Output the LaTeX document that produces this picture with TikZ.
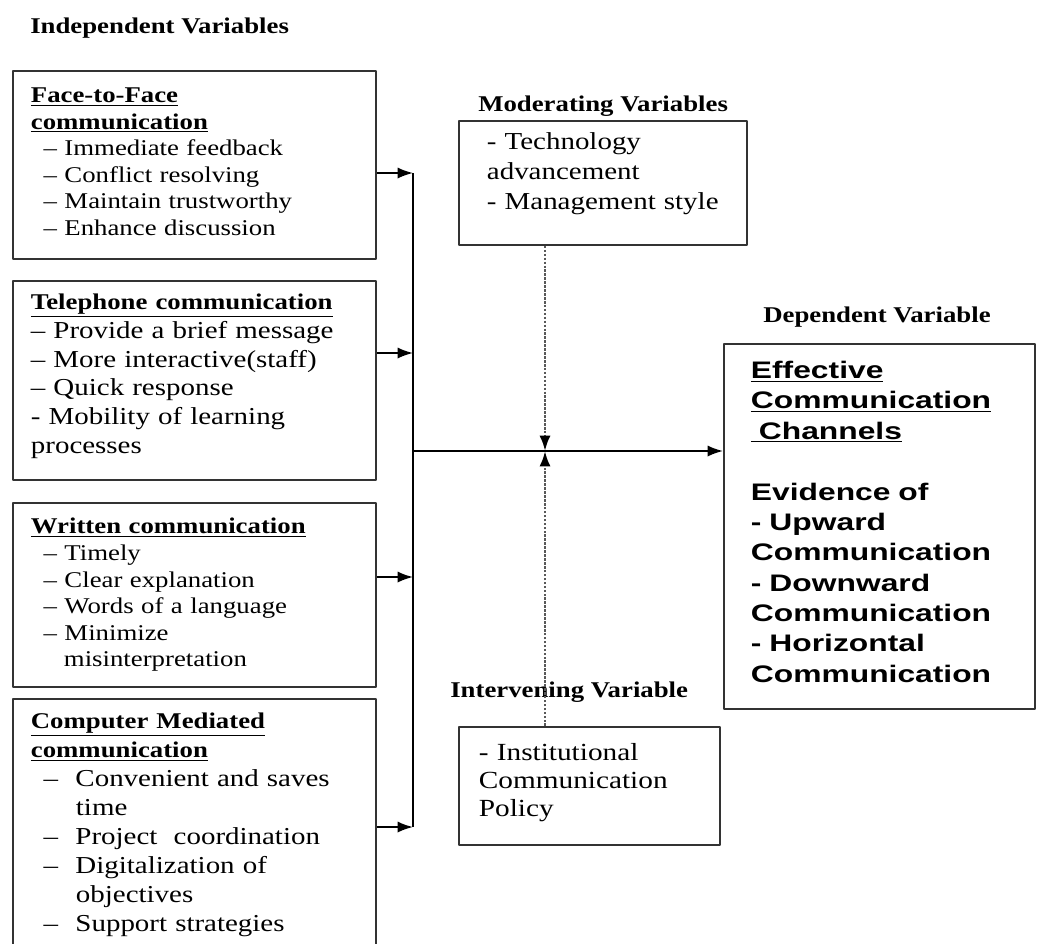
\documentclass[tikz,border=0pt]{standalone}
\usepackage{fontspec}
\setmainfont{Liberation Serif}[FakeStretch=1.19]
\newfontfamily\depfont{Liberation Sans}[FakeStretch=1.33]
\usetikzlibrary{arrows.meta}

\begin{document}
\begin{tikzpicture}[x=0.025cm, y=-0.025cm, >={Latex[length=11pt,width=8pt]}, line join=round,
	box/.style={draw=black!80, line width=1.3pt, rectangle, anchor=north west, align=left, inner ysep=0pt},
	indep/.style={box, inner xsep=0.45cm, text width=8.175cm},
	head/.style={font=\bfseries\fontsize{16}{19}\selectfont, anchor=base west, inner sep=0pt},
	arr/.style={->, line width=1.3pt},
	dots/.style={-{Latex[length=11pt,width=8pt,color=black]}, densely dotted, line width=1.8pt, black!65}]
	\useasboundingbox (0,0) rectangle (1037,943);
	\def\trunk{413} %x of the collecting line
	\def\mid{451} %y of the line to the dependent box
	% titles
	\node[head] (indep-t) at (30,33) {Independent Variables};
	\node[head] (mod-t) at (478,111) {Moderating Variables};
	\node[head] (dep-t) at (763,322) {Dependent Variable};
	\node[head] (itv-t) at (450,697) {Intervening Variable};
	% independent variables
	\node[indep, minimum height=4.7cm, font=\fontsize{16}{18.8}\selectfont] (ftf) at (12,70) {%
		\underline{\textbf{Face-to-Face}}\\
		\underline{\textbf{communication}}\\
		\hspace*{9pt}– Immediate feedback\\
		\hspace*{9pt}– Conflict resolving\\
		\hspace*{9pt}– Maintain trustworthy\\
		\hspace*{9pt}– Enhance discussion\\[-14pt]\mbox{}};
	\node[indep, minimum height=4.975cm, font=\fontsize{17.3}{20.6}\selectfont] (tel) at (12,280) {%
		\underline{\textbf{\fontsize{16}{20.6}\selectfont Telephone communication}}\\
		– Provide a brief message\\
		– More interactive(staff)\\
		– Quick response\\
		- Mobility of learning\\
		processes\\[-11pt]\mbox{}};
	\node[indep, minimum height=4.6cm, font=\fontsize{16}{18.9}\selectfont] (wri) at (12,502) {%
		\underline{\textbf{Written communication}}\\
		\hspace*{9pt}– Timely\\
		\hspace*{9pt}– Clear explanation\\
		\hspace*{9pt}– Words of a language\\
		\hspace*{9pt}– Minimize\\
		\hspace*{23.5pt}misinterpretation};
	\node[indep, minimum height=6.3cm, font=\fontsize{17.3}{20.6}\selectfont] (cmc) at (12,698) {%
		\underline{\textbf{\fontsize{16}{20.6}\selectfont Computer Mediated}}\\
		\underline{\textbf{\fontsize{16}{20.6}\selectfont communication}}\\
		\hspace*{9pt}–\hspace{12.4pt}Convenient and saves\\
		\hspace*{32pt}time\\
		\hspace*{9pt}–\hspace{12.4pt}Project\ \ coordination\\
		\hspace*{9pt}–\hspace{12.4pt}Digitalization of\\
		\hspace*{32pt}objectives\\
		\hspace*{9pt}–\hspace{12.4pt}Support strategies};
	% moderating, intervening, dependent
	\node[box, inner xsep=0.7cm, text width=5.8cm, minimum height=3.1cm, font=\fontsize{17.3}{21.3}\selectfont] (mod) at (458,120) {%
		- Technology\\
		advancement\\
		- Management style\\[-4.7pt]\mbox{}};
	\node[box, inner xsep=0.5cm, text width=5.525cm, minimum height=2.95cm, font=\fontsize{17.5}{19.9}\selectfont] (itv) at (458,726) {%
		- Institutional\\
		Communication\\
		Policy\\[-12pt]\mbox{}};
	\node[box, inner xsep=0.675cm, text width=6.425cm, minimum height=9.125cm, font=\depfont\bfseries\fontsize{17}{21.6}\selectfont] (dep) at (723,343) {%
		\underline{Effective}\\
		\underline{Communication}\\
		\underline{\ Channels}\\[21.6pt]
		Evidence of\\
		- Upward\\
		Communication\\
		- Downward\\
		Communication\\
		- Horizontal\\
		Communication\\[-15pt]\mbox{}};
	% connectors
	\coordinate (t1) at (\trunk,173);
	\coordinate (t2) at (\trunk,353);
	\coordinate (t3) at (\trunk,577);
	\coordinate (t4) at (\trunk,827);
	\coordinate (o) at (\trunk,\mid);
	\coordinate (j) at (545,\mid);
	\draw[arr] (ftf.east |- t1) -- (t1);
	\draw[arr] (tel.east |- t2) -- (t2);
	\draw[arr] (wri.east |- t3) -- (t3);
	\draw[arr] (cmc.east |- t4) -- (t4);
	\draw[line width=1.3pt] (t1) -- (t4);
	\draw[arr] (o) -- (dep.west |- o);
	\draw[dots] (mod.south -| j) -- (j);
	\draw[dots] (itv.north -| j) -- (j);
\end{tikzpicture}
\end{document}
